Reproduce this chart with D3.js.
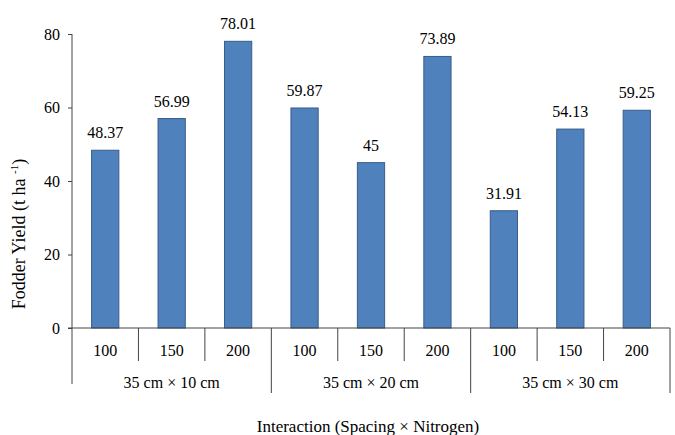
<!DOCTYPE html>
<html>
<head>
<meta charset="utf-8">
<script src="https://cdn.jsdelivr.net/npm/d3@7"></script>
<style>
  body { margin: 0; background: #fff; }
</style>
</head>
<body>
<div id="chart"></div>
<script>
// datos
const spacings = ["35 cm × 10 cm", "35 cm × 20 cm", "35 cm × 30 cm"];
const nitrogen = ["100", "150", "200"];
const yieldValues = [48.37, 56.99, 78.01, 59.87, 45, 73.89, 31.91, 54.13, 59.25];
const valueLabels = ["48.37", "56.99", "78.01", "59.87", "45", "73.89", "31.91", "54.13", "59.25"];
const yTicks = [0, 20, 40, 60, 80];

const width = 675;
const height = 435;
const margin = { top: 34, right: 5, bottom: 107, left: 72 };
const plotW = width - margin.left - margin.right;
const plotH = height - margin.top - margin.bottom;
const serif = "'Liberation Serif', 'Times New Roman', Times, 'DejaVu Serif', serif";

// una fila por barra
const rows = [];
spacings.forEach((s, i) => {
  nitrogen.forEach((n, j) => {
    const k = i * nitrogen.length + j;
    rows.push({ id: k, spacing: s, n: n, value: yieldValues[k], label: valueLabels[k] });
  });
});

const svg = d3
  .select("#chart")
  .append("svg")
  .attr("width", width)
  .attr("height", height)
  .style("font-family", serif);

const g = svg.append("g").attr("transform", `translate(${margin.left},${margin.top})`);

const x = d3.scaleBand().domain(rows.map((d) => d.id)).range([0, plotW]).padding(0);
const y = d3.scaleLinear().domain([0, 80]).range([plotH, 0]);

// eje y
const yAxis = g.append("g").call(d3.axisLeft(y).tickValues(yTicks).tickSize(4).tickPadding(8));
yAxis.attr("font-family", null).attr("font-size", null);
yAxis.select(".domain").remove();
yAxis.selectAll("line").attr("stroke", "#444");
yAxis.selectAll("text").attr("font-size", 16).style("font-family", serif).attr("fill", "#000");
g.append("line")
  .attr("x1", 0).attr("x2", 0)
  .attr("y1", 0).attr("y2", plotH + 56)
  .attr("stroke", "#444");

// barras
const barW = x.bandwidth() * 0.41;
g.selectAll("rect.bar")
  .data(rows)
  .enter()
  .append("rect")
  .attr("class", "bar")
  .attr("x", (d) => x(d.id) + (x.bandwidth() - barW) / 2)
  .attr("width", barW)
  .attr("y", (d) => y(d.value))
  .attr("height", (d) => plotH - y(d.value))
  .attr("fill", "#4f81bd")
  .attr("stroke", "#385d8a")
  .attr("stroke-width", 1);

g.selectAll("text.val")
  .data(rows)
  .enter()
  .append("text")
  .attr("class", "val")
  .attr("x", (d) => x(d.id) + x.bandwidth() / 2)
  .attr("y", (d) => y(d.value) - 12)
  .attr("text-anchor", "middle")
  .attr("font-size", 16)
  .text((d) => d.label);

// linea base
g.append("line")
  .attr("x1", -4).attr("x2", plotW)
  .attr("y1", plotH).attr("y2", plotH)
  .attr("stroke", "#444");

// separadores del eje categorias
g.selectAll("line.sep")
  .data(rows.slice(1))
  .enter()
  .append("line")
  .attr("class", "sep")
  .attr("x1", (d) => x(d.id)).attr("x2", (d) => x(d.id))
  .attr("y1", plotH)
  .attr("y2", (d) => plotH + (d.id % 3 === 0 ? 65 : 33))
  .attr("stroke", "#444");
g.append("line")
  .attr("x1", plotW).attr("x2", plotW)
  .attr("y1", plotH).attr("y2", plotH + 65)
  .attr("stroke", "#444");

g.selectAll("text.nit")
  .data(rows)
  .enter()
  .append("text")
  .attr("class", "nit")
  .attr("x", (d) => x(d.id) + x.bandwidth() / 2)
  .attr("y", plotH + 28)
  .attr("text-anchor", "middle")
  .attr("font-size", 16)
  .text((d) => d.n);

g.selectAll("text.sp")
  .data(spacings)
  .enter()
  .append("text")
  .attr("class", "sp")
  .attr("x", (d, i) => x(i * 3) + x.bandwidth() * 1.5)
  .attr("y", plotH + 60)
  .attr("text-anchor", "middle")
  .attr("font-size", 16)
  .text((d) => d);

// titulos
svg.append("text")
  .attr("x", 368)
  .attr("y", 432)
  .attr("text-anchor", "middle")
  .attr("font-size", 17)
  .text("Interaction (Spacing × Nitrogen)");

const yt = svg.append("text")
  .attr("transform", "translate(25,234) rotate(-90)")
  .attr("text-anchor", "middle")
  .attr("font-size", 18);
yt.append("tspan").text("Fodder Yield (t ha ");
yt.append("tspan").attr("font-size", 11).attr("dy", -7).text("-1");
yt.append("tspan").attr("dy", 7).text(")");
</script>
</body>
</html>
